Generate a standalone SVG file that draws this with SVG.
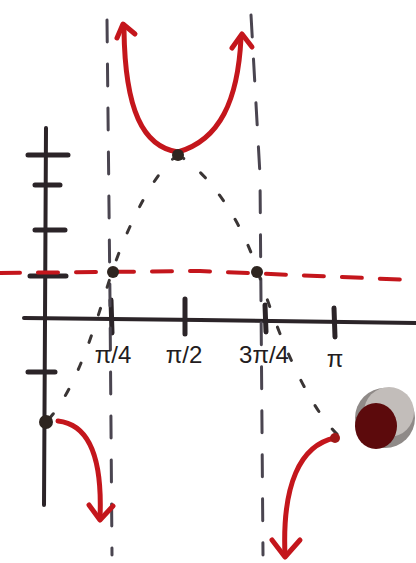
<svg xmlns="http://www.w3.org/2000/svg" width="416" height="563" viewBox="0 0 416 563">
<defs>
<style>
.ax{stroke:#2b2428;stroke-width:4;stroke-linecap:round;fill:none}
.tk{stroke:#2b2428;stroke-width:5;stroke-linecap:round;fill:none}
.asym{stroke:#4a4550;stroke-width:3;stroke-dasharray:22 22;stroke-linecap:round;fill:none}
.guide{stroke:#3a3535;stroke-width:3;stroke-dasharray:7 22;stroke-linecap:round;fill:none}
.hl{stroke:#c4161c;stroke-width:4;stroke-dasharray:20 18;stroke-linecap:round;fill:none}
.rc{stroke:#c4161c;stroke-width:5;stroke-linecap:round;stroke-linejoin:round;fill:none}
.dot{fill:#2e2520}
.lbl{font-family:"Liberation Sans","DejaVu Sans",sans-serif;font-size:24px;fill:#231c20}
</style>
</defs>
<rect width="416" height="563" fill="#ffffff"/>
<g id="axes">
<path class="ax" d="M46,128 L45,320 L44,505"/>
<path class="ax" d="M24,318 L200,320 L416,323"/>
<path class="tk" d="M28,155 L68,155 M35,185 L60,185 M35,230 L65,230 M30,276 L66,276 M28,372 L55,372"/>
<path class="tk" d="M111,300 L112,333 M185,299 L185,334 M265,305 L266,332 M334,308 L335,337"/>
</g>
<g id="asymptotes">
<path class="asym" d="M107,20 L110,300 L112,555"/>
<path class="asym" d="M251,15 L260,175 L263,555"/>
</g>
<g id="midline">
<path class="hl" d="M0,273 L200,271 L412,280"/>
</g>
<g id="guide-curve">
<path class="guide" d="M178,155 C155,170 128,225 112,272 C98,315 78,390 46,422"/>
<path class="guide" d="M178,155 C205,170 240,215 258,272 C275,325 305,405 340,437"/>
</g>
<g id="red-curves">
<path class="rc" d="M178,152 C143,147 125,110 124,30"/>
<path class="rc" d="M117,38 L123,24 L135,34"/>
<path class="rc" d="M178,152 C220,140 238,100 241,38"/>
<path class="rc" d="M232,48 L242,34 L252,47"/>
<path class="rc" d="M58,421 C95,425 102,470 100,518"/>
<path class="rc" d="M89,505 L100,520 L113,506"/>
<path class="rc" d="M335,438 C300,445 282,485 285,555"/>
<path class="rc" d="M272,540 L285,557 L300,540"/>
</g>
<g id="points">
<circle class="dot" cx="178" cy="155" r="6"/>
<circle class="dot" cx="113" cy="272" r="6"/>
<circle class="dot" cx="257" cy="272" r="6"/>
<circle class="dot" cx="46" cy="422" r="7"/>
<circle cx="335" cy="438" r="5" fill="#a01818"/>
</g>
<g id="labels">
<text class="lbl" x="113" y="363" text-anchor="middle">π/4</text>
<text class="lbl" x="184" y="363" text-anchor="middle">π/2</text>
<text class="lbl" x="264" y="363" text-anchor="middle">3π/4</text>
<text class="lbl" x="335" y="367" text-anchor="middle">π</text>
</g>
<g id="bead">
<circle cx="385" cy="418" r="30" fill="#8f8a88"/>
<circle cx="389" cy="412" r="25" fill="#c2bdba"/>
<ellipse cx="376" cy="426" rx="21" ry="23" fill="#5c0a0c"/>
</g>
</svg>
